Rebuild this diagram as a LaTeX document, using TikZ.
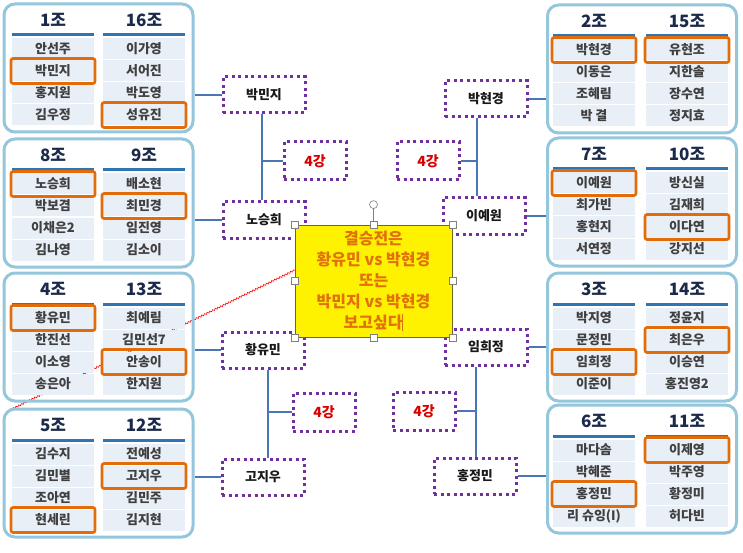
\documentclass[tikz,border=0pt]{standalone}
\usepackage{fontspec}
\setmainfont{Noto Sans CJK KR}
\usetikzlibrary{positioning,decorations.pathmorphing}
\definecolor{frameblue}{HTML}{94C6DC}
\definecolor{cellblue}{HTML}{E8EFF7}
\definecolor{headblue}{HTML}{2E75B6}
\definecolor{navy}{HTML}{1B2A4A}
\definecolor{pick}{HTML}{E36C0A}
\definecolor{dotpurple}{HTML}{7030A0}
\definecolor{linkblue}{HTML}{4A76B8}
\definecolor{finalorange}{HTML}{E2700C}

\begin{document}
\begin{tikzpicture}[x=1pt,y=-1pt,
  grp/.style={draw=frameblue,line width=3pt,rounded corners=11pt,minimum width=189pt,minimum height=128pt,inner sep=0pt},
  hdr/.style={font=\fontsize{17}{17}\selectfont\bfseries,text=navy},
  cell/.style={fill=cellblue,minimum width=82pt,minimum height=21pt,inner sep=0pt,font=\fontsize{13}{13}\selectfont\bfseries,text=black!75},
  pickbox/.style={draw=pick,line width=2.6pt,rounded corners=2pt,minimum width=84pt,minimum height=25pt},
  who/.style={draw=dotpurple,line width=3pt,dash pattern=on 3pt off 3.5pt,minimum width=82pt,minimum height=36pt,font=\fontsize{13}{13}\selectfont\bfseries,text=black!90},
  rnd/.style={who,minimum width=62pt,minimum height=38pt,text=red!85!black,font=\fontsize{14}{14}\selectfont\bfseries},
  link/.style={draw=linkblue,line width=2.8pt},
  handle/.style={draw=gray,fill=white,line width=0.6pt,inner sep=0pt,minimum size=7pt}]
\useasboundingbox[fill=white] (0,0) rectangle (743,553);
\draw[red,line width=0.6pt,decorate,decoration={snake,amplitude=0.8pt,segment length=3pt}] (10,410) -- (295,270);

% group boxes
\node[grp] (g1) at (98.5,68) {};
\node[grp] (g8) at (98.5,203) {};
\node[grp] (g4) at (98.5,337) {};
\node[grp] (g5) at (98.5,473) {};
\node[grp] (g2) at (642,69) {};
\node[grp] (g7) at (642,202) {};
\node[grp] (g3) at (642,337) {};
\node[grp] (g6) at (642,469) {};

\foreach \gid/\gx/\gt/\ghd/\na/\nb/\nc/\nd/\hit in {
  c1/53/4/1조/안선주/박민지/홍지원/김우정/2,
  c16/144/4/16조/이가영/서어진/박도영/성유진/4,
  c8/53/139/8조/노승희/박보겸/이채은2/김나영/1,
  c9/144/139/9조/배소현/최민경/임진영/김소이/2,
  c4/53/273/4조/황유민/한진선/이소영/송은아/1,
  c13/144/273/13조/최예림/김민선7/안송이/한지원/3,
  c5/53/409/5조/김수지/김민별/조아연/현세린/4,
  c12/144/409/12조/전예성/고지우/김민주/김지현/2,
  c2/594/5/2조/박현경/이동은/조혜림/박 결/1,
  c15/687/5/15조/유현조/지한솔/장수연/정지효/1,
  c7/594/138/7조/이예원/최가빈/홍현지/서연정/1,
  c10/687/138/10조/방신실/김재희/이다연/강지선/3,
  c3/594/273/3조/박지영/문정민/임희정/이준이/3,
  c14/687/273/14조/정윤지/최은우/이승연/홍진영2/2,
  c6/594/405/6조/마다솜/박혜준/홍정민/리 슈잉(I)/3,
  c11/687/405/11조/이제영/박주영/황정미/허다빈/1}{
  \node[hdr] (\gid-h) at (\gx,\gt+16) {\ghd};
  \draw[headblue,line width=3pt] (\gx-41,\gt+31) -- (\gx+41,\gt+31);
  \foreach \nm [count=\r] in {\na,\nb,\nc,\nd}
    \node[cell] (\gid-\r) at (\gx,\gt+23+22*\r) {\nm};
  \node[pickbox] (\gid-p) at (\gid-\hit) {};
}

% players
\node[who] (pmj) at (264,95) {박민지};
\node[who] (nsh) at (264,220) {노승희};
\node[who] (hym) at (263,350) {황유민};
\node[who] (gjw) at (263,477) {고지우};
\node[who] (phk) at (486,99) {박현경};
\node[who] (lyw) at (484,216) {이예원};
\node[who] (lhj) at (486,347) {임희정};
\node[who] (hjm) at (475,476) {홍정민};
\node[rnd] (q1) at (315,161) {4강};
\node[rnd] (q2) at (428,161) {4강};
\node[rnd] (q3) at (324,412) {4강};
\node[rnd] (q4) at (424,411) {4강};

\draw[link] (pmj.west) -- (pmj.west -| g1.east);
\draw[link] (nsh.west) -- (nsh.west -| g8.east);
\draw[link] (hym.west) -- (hym.west -| g4.east);
\draw[link] (gjw.west) -- (gjw.west -| g5.east);
\draw[link] (phk.east) -- (phk.east -| g2.west);
\draw[link] (lyw.east) -- (lyw.east -| g7.west);
\draw[link] (lhj.east) -- (lhj.east -| g3.west);
\draw[link] (hjm.east) -- (hjm.east -| g6.west);

\draw[link] ([xshift=-2pt]pmj.south) coordinate (v1) -- (v1 |- nsh.north);
\draw[link] (q1.west) -- (q1.west -| v1);
\draw[link] ([xshift=-9pt]phk.south) coordinate (v2) -- (v2 |- lyw.north);
\draw[link] (q2.east) -- (q2.east -| v2);
\draw[link] ([xshift=5pt]hym.south) coordinate (v3) -- (v3 |- gjw.north);
\draw[link] (q3.west) -- (q3.west -| v3);
\draw[link] ([xshift=-10pt]lhj.south) coordinate (v4) -- (v4 |- hjm.north);
\draw[link] (q4.east) -- (q4.east -| v4);

% final wish
\node[draw=olive!70!black,fill=yellow,line width=0.8pt,minimum width=157pt,minimum height=112pt,align=center,text=finalorange,font=\fontsize{16}{21}\selectfont\bfseries] (fin) at (373.5,281)
  {결승전은\\황유민 vs 박현경\\또는\\박민지 vs 박현경\\보고싶다\rule[-3pt]{0.9pt}{17pt}};
\foreach \an [count=\i] in {north west,north,north east,east,south east,south,south west,west}
  \node[handle] (hd\i) at (fin.\an) {};
\node[handle,circle,minimum size=8pt] (rot) at ([yshift=20pt]fin.north) {};
\draw[gray,line width=0.6pt] (rot) -- (hd2);
\end{tikzpicture}
\end{document}
